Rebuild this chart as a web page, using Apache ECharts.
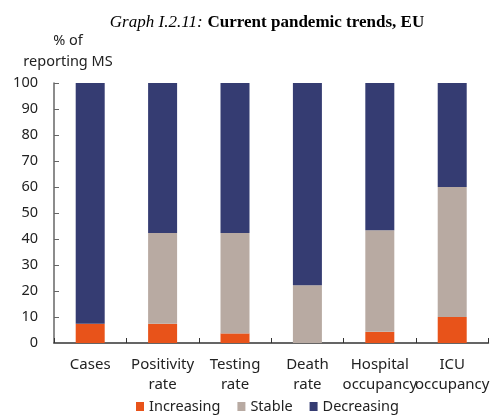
<!DOCTYPE html>
<html>
<head>
<meta charset="utf-8">
<script src="https://cdn.jsdelivr.net/npm/echarts@6/dist/echarts.min.js"></script>
<style>
  html, body { margin: 0; padding: 0; background: #fff; }
  #chart { width: 492px; height: 415px; }
</style>
</head>
<body>
<div id="chart"></div>
<script>
// % of reporting member states per indicator
const categories = ['Cases', 'Positivity\nrate', 'Testing\nrate', 'Death\nrate', 'Hospital\noccupancy', 'ICU\noccupancy'];
const increasing = [7.4, 7.4, 3.7, 0, 4.3, 10];
const stable = [0, 34.9, 38.6, 22.2, 39.1, 50];
const decreasing = [92.6, 57.7, 57.7, 77.8, 56.6, 40];

const labelFont = '"Noto Sans", sans-serif';

const myChart = echarts.init(document.getElementById('chart'));
const option = {
  animation: false,
  title: [
    {
      text: '{i|Graph I.2.11:} {b|Current pandemic trends, EU}',
      left: 262,
      textAlign: 'center',
      top: 9,
      textStyle: {
        fontWeight: 'normal',
        rich: {
          i: { fontFamily: '"Liberation Serif", serif', fontStyle: 'italic', fontWeight: 'normal', fontSize: 17, color: '#000' },
          b: { fontFamily: '"Liberation Serif", serif', fontWeight: 'bold', fontSize: 17, color: '#000' }
        }
      }
    },
    {
      text: '% of\nreporting MS',
      left: 63,
      textAlign: 'center',
      top: 25,
      textStyle: { fontFamily: labelFont, fontSize: 14.5, fontWeight: 'normal', color: '#222', lineHeight: 21 }
    }
  ],
  legend: {
    top: 394,
    left: 131,
    itemWidth: 8,
    itemHeight: 9,
    itemGap: 17,
    icon: 'rect',
    textStyle: { fontFamily: labelFont, fontSize: 14.5, color: '#222' },
    data: ['Increasing', 'Stable', 'Decreasing']
  },
  grid: { left: 54, top: 83, height: 260, width: 440 },
  xAxis: {
    type: 'category',
    data: categories,
    axisLine: { lineStyle: { color: '#333', width: 1.5 } },
    axisTick: { show: true, inside: true, length: 5, lineStyle: { color: '#333' } },
    axisLabel: {
      interval: 0,
      margin: 12,
      fontFamily: labelFont,
      fontSize: 15,
      lineHeight: 20,
      color: '#222',
      overflow: 'none'
    }
  },
  yAxis: {
    type: 'value',
    min: 0,
    max: 100,
    interval: 10,
    splitLine: { show: false },
    axisLine: { show: true, lineStyle: { color: '#666', width: 1.5 } },
    axisTick: { show: true, inside: true, length: 5, lineStyle: { color: '#666' } },
    axisLabel: { margin: 16, fontFamily: labelFont, fontSize: 14.5, color: '#222' }
  },
  series: [
    { name: 'Increasing', type: 'bar', stack: 'total', barWidth: 29, data: increasing, itemStyle: { color: '#E8531A' } },
    { name: 'Stable', type: 'bar', stack: 'total', barWidth: 29, data: stable, itemStyle: { color: '#B8AAA2' } },
    { name: 'Decreasing', type: 'bar', stack: 'total', barWidth: 29, data: decreasing, itemStyle: { color: '#353C72' } }
  ]
};
myChart.setOption(option);
</script>
</body>
</html>
